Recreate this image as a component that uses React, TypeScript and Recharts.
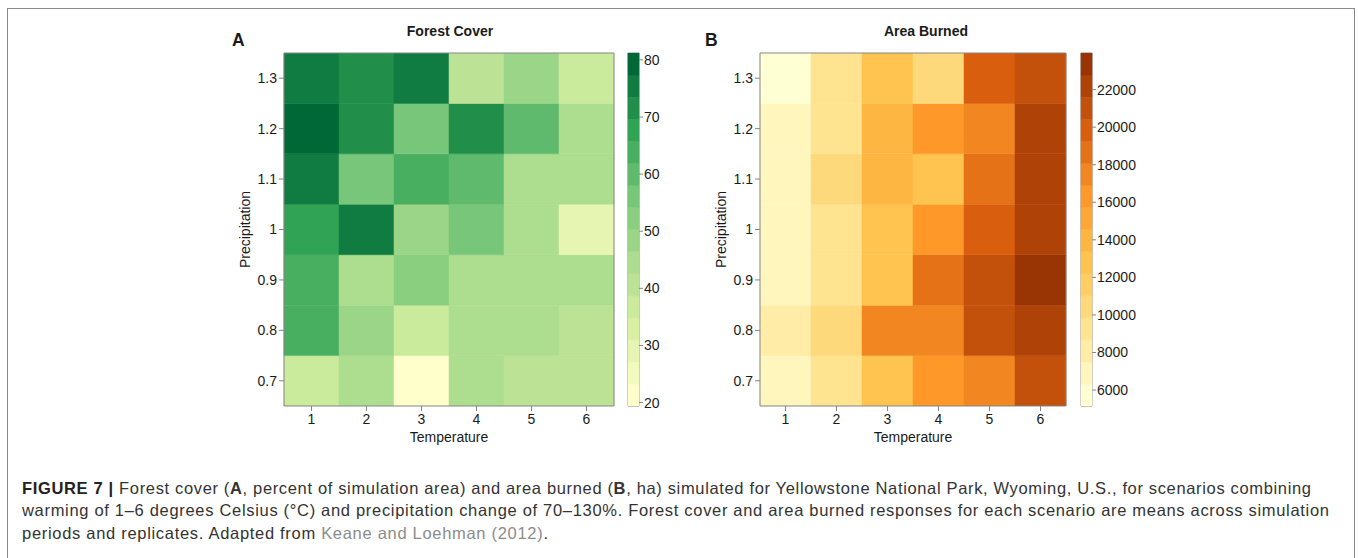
import React from 'react';
import { BarChart, Bar, Cell, XAxis, YAxis, ReferenceArea } from 'recharts';

// grid axes
const temperature = ['1', '2', '3', '4', '5', '6'];
const precipitation = [0.7, 0.8, 0.9, 1, 1.1, 1.2, 1.3];

// Forest cover (%), one array per precipitation level, columns = temperature 1..6
const cover07 = [36.7, 44.5, 19.4, 44.5, 40.6, 40.6];
const cover08 = [63.8, 48.3, 36.7, 44.5, 44.5, 40.6];
const cover09 = [63.8, 44.5, 52.2, 44.5, 44.5, 44.5];
const cover10 = [67.7, 75.4, 48.3, 56.1, 44.5, 30.0];
const cover11 = [75.4, 56.1, 63.8, 59.9, 44.5, 44.5];
const cover12 = [81.2, 71.6, 56.1, 71.6, 59.9, 44.5];
const cover13 = [75.4, 71.6, 75.4, 40.6, 48.3, 36.7];

// Area burned (ha)
const burned07 = [6910, 9260, 12790, 16310, 17490, 21010];
const burned08 = [8090, 10440, 17490, 17490, 21010, 22190];
const burned09 = [6910, 9260, 12790, 18660, 21010, 23950];
const burned10 = [6910, 9260, 12790, 16310, 19840, 22190];
const burned11 = [6910, 10440, 13960, 12790, 18660, 22190];
const burned12 = [6910, 9260, 13960, 16310, 17490, 22190];
const burned13 = [5150, 9260, 12790, 10440, 19840, 21010];

const coverTicks = [20, 30, 40, 50, 60, 70, 80];
const burnedTicks = [6000, 8000, 10000, 12000, 14000, 16000, 18000, 20000, 22000];

const greens = ['#ffffcc', '#d9f0a3', '#addd8e', '#78c679', '#31a354', '#006837'];
const oranges = ['#ffffd4', '#fee391', '#fec44f', '#fe9929', '#d95f0e', '#993404'];

const LEVELS = 16;
const AXIS = '#858585';
const INK = '#1a1a1a';
const FS = 14;

const hex = (c: string) => [1, 3, 5].map((i) => parseInt(c.slice(i, i + 2), 16));

// same as colorRampPalette(...)(n)
const ramp = (anchors: string[], n: number) =>
  Array.from({ length: n }, (_, i) => {
    const t = (i / (n - 1)) * (anchors.length - 1);
    const k = Math.min(Math.floor(t), anchors.length - 2);
    const f = t - k;
    const a = hex(anchors[k]);
    const b = hex(anchors[k + 1]);
    const rgb = a.map((v, j) => Math.round(v + (b[j] - v) * f));
    return `rgb(${rgb.join(',')})`;
  });

const levelOf = (v: number, min: number, max: number) =>
  Math.max(0, Math.min(LEVELS - 1, Math.floor(((v - min) / (max - min)) * LEVELS)));

type PanelProps = {
  left: number;
  width: number;
  marginLeft: number;
  marginRight: number;
  rows: number[][];
  palette: string[];
};

const Heatmap = ({ left, width, marginLeft, marginRight, rows, palette }: PanelProps) => {
  const all = rows.flat();
  const min = Math.min(...all);
  const max = Math.max(...all);
  const colors = ramp(palette, LEVELS);
  const step = precipitation[1] - precipitation[0];
  const lo = precipitation[0] - step / 2;
  const hi = precipitation[precipitation.length - 1] + step / 2;

  const data = temperature.map((t) => {
    const d: Record<string, any> = { t, base: lo };
    rows.forEach((_, k) => (d['p' + k] = step));
    return d;
  });

  return (
    <div style={{ position: 'absolute', left, top: 0 }}>
      <BarChart
        width={width}
        height={460}
        data={data}
        margin={{ top: 48, right: marginRight, bottom: 14, left: marginLeft }}
        barCategoryGap={0}
        barGap={0}
      >
        <XAxis
          dataKey="t"
          height={40}
          tickSize={5}
          tickMargin={3}
          interval={0}
          stroke={AXIS}
          fontSize={FS}
          tick={{ fill: INK, fontSize: FS }}
        />
        <XAxis xAxisId="top" dataKey="t" orientation="top" height={5} tickSize={5} tick={false} stroke={AXIS} />
        <YAxis
          type="number"
          domain={[lo, hi]}
          ticks={precipitation}
          allowDataOverflow
          interval={0}
          width={60}
          tickSize={5}
          tickMargin={2}
          stroke={AXIS}
          fontSize={FS}
          tick={{ fill: INK, fontSize: FS }}
        />
        <YAxis
          yAxisId="right"
          orientation="right"
          type="number"
          domain={[lo, hi]}
          ticks={precipitation}
          allowDataOverflow
          interval={0}
          width={6}
          tickSize={5}
          tick={false}
          stroke={AXIS}
        />
        <Bar dataKey="base" stackId="s" fill="none" isAnimationActive={false} />
        {rows.map((row, k) => (
          <Bar key={k} dataKey={'p' + k} stackId="s" isAnimationActive={false}>
            {row.map((v, j) => {
              const c = colors[levelOf(v, min, max)];
              return <Cell key={j} fill={c} stroke={c} strokeWidth={0.5} />;
            })}
          </Bar>
        ))}
      </BarChart>
    </div>
  );
};

type KeyProps = {
  left: number;
  axisWidth: number;
  rows: number[][];
  palette: string[];
  ticks: number[];
};

const ColorKey = ({ left, axisWidth, rows, palette, ticks }: KeyProps) => {
  const all = rows.flat();
  const min = Math.min(...all);
  const max = Math.max(...all);
  const colors = ramp(palette, LEVELS);
  const step = (max - min) / LEVELS;
  const row: Record<string, any> = { k: 'key', base: min };
  colors.forEach((_, i) => (row['b' + i] = step));

  return (
    <div style={{ position: 'absolute', left, top: 0 }}>
      <BarChart
        width={8 + 11 + axisWidth}
        height={460}
        data={[row]}
        margin={{ top: 53, right: 0, bottom: 54, left: 8 }}
        barCategoryGap={0}
      >
        <XAxis dataKey="k" hide />
        <YAxis
          orientation="right"
          type="number"
          domain={[min, max]}
          ticks={ticks}
          allowDataOverflow
          interval={0}
          width={axisWidth}
          axisLine={false}
          tickSize={4}
          tickMargin={1}
          stroke={AXIS}
          fontSize={FS}
          tick={{ fill: INK, fontSize: FS }}
        />
        <Bar dataKey="base" stackId="c" fill="none" isAnimationActive={false} />
        {colors.map((c, i) => (
          <Bar key={i} dataKey={'b' + i} stackId="c" fill={c} stroke={c} strokeWidth={0.5} isAnimationActive={false} />
        ))}
        <ReferenceArea y1={min} y2={max} fill="none" stroke={AXIS} strokeWidth={1} />
      </BarChart>
    </div>
  );
};

const coverRows = [cover07, cover08, cover09, cover10, cover11, cover12, cover13];
const burnedRows = [burned07, burned08, burned09, burned10, burned11, burned12, burned13];

export default function App() {
  return (
    <div
      style={{
        position: 'absolute',
        left: 0,
        top: 0,
        width: 1358,
        height: 558,
        background: '#fff',
        overflow: 'hidden',
        fontFamily: '"Liberation Sans", Arial, Helvetica, sans-serif',
      }}
    >
      <div
        style={{
          position: 'absolute',
          left: 7,
          top: 8,
          width: 1346,
          height: 600,
          border: '1.5px solid #8a8a8a',
        }}
      />

      <Heatmap left={200} width={420} marginLeft={24} marginRight={0} rows={coverRows} palette={greens} />
      <ColorKey left={620} axisWidth={41} rows={coverRows} palette={greens} ticks={coverTicks} />

      <Heatmap left={680} width={400} marginLeft={20} marginRight={8} rows={burnedRows} palette={oranges} />
      <ColorKey left={1073} axisWidth={56} rows={burnedRows} palette={oranges} ticks={burnedTicks} />

      <svg
        width={1358}
        height={558}
        style={{ position: 'absolute', left: 0, top: 0, pointerEvents: 'none' }}
      >
        <g fill={INK}>
          <text x={232} y={46} fontSize={17.5} fontWeight="bold">A</text>
          <text x={705} y={46} fontSize={17.5} fontWeight="bold">B</text>
          <text x={450} y={36} fontSize={14} fontWeight="bold" textAnchor="middle">Forest Cover</text>
          <text x={926} y={36} fontSize={14} fontWeight="bold" textAnchor="middle">Area Burned</text>
          <text x={449} y={441.5} fontSize={14} textAnchor="middle">Temperature</text>
          <text x={913} y={441.5} fontSize={14} textAnchor="middle">Temperature</text>
          <text x={250} y={229.5} fontSize={14} textAnchor="middle" transform="rotate(-90 250 229.5)">Precipitation</text>
          <text x={726} y={229.5} fontSize={14} textAnchor="middle" transform="rotate(-90 726 229.5)">Precipitation</text>
        </g>
        <g fill="#333" fontSize={16.5}>
          <text x={22} y={493.5} textLength={1289} lengthAdjust="spacing">
            <tspan fontWeight="bold" fill="#222">FIGURE 7 | </tspan>
            Forest cover (<tspan fontWeight="bold">A</tspan>, percent of simulation area) and area burned (
            <tspan fontWeight="bold">B</tspan>, ha) simulated for Yellowstone National Park, Wyoming, U.S., for scenarios combining
          </text>
          <text x={22} y={516} textLength={1307} lengthAdjust="spacing">
            warming of 1–6 degrees Celsius (°C) and precipitation change of 70–130%. Forest cover and area burned responses for each scenario are means across simulation
          </text>
          <text x={22} y={538.5} textLength={526} lengthAdjust="spacing">
            periods and replicates. Adapted from <tspan fill="#8c8c8c">Keane and Loehman (2012)</tspan>.
          </text>
        </g>
      </svg>
    </div>
  );
}
